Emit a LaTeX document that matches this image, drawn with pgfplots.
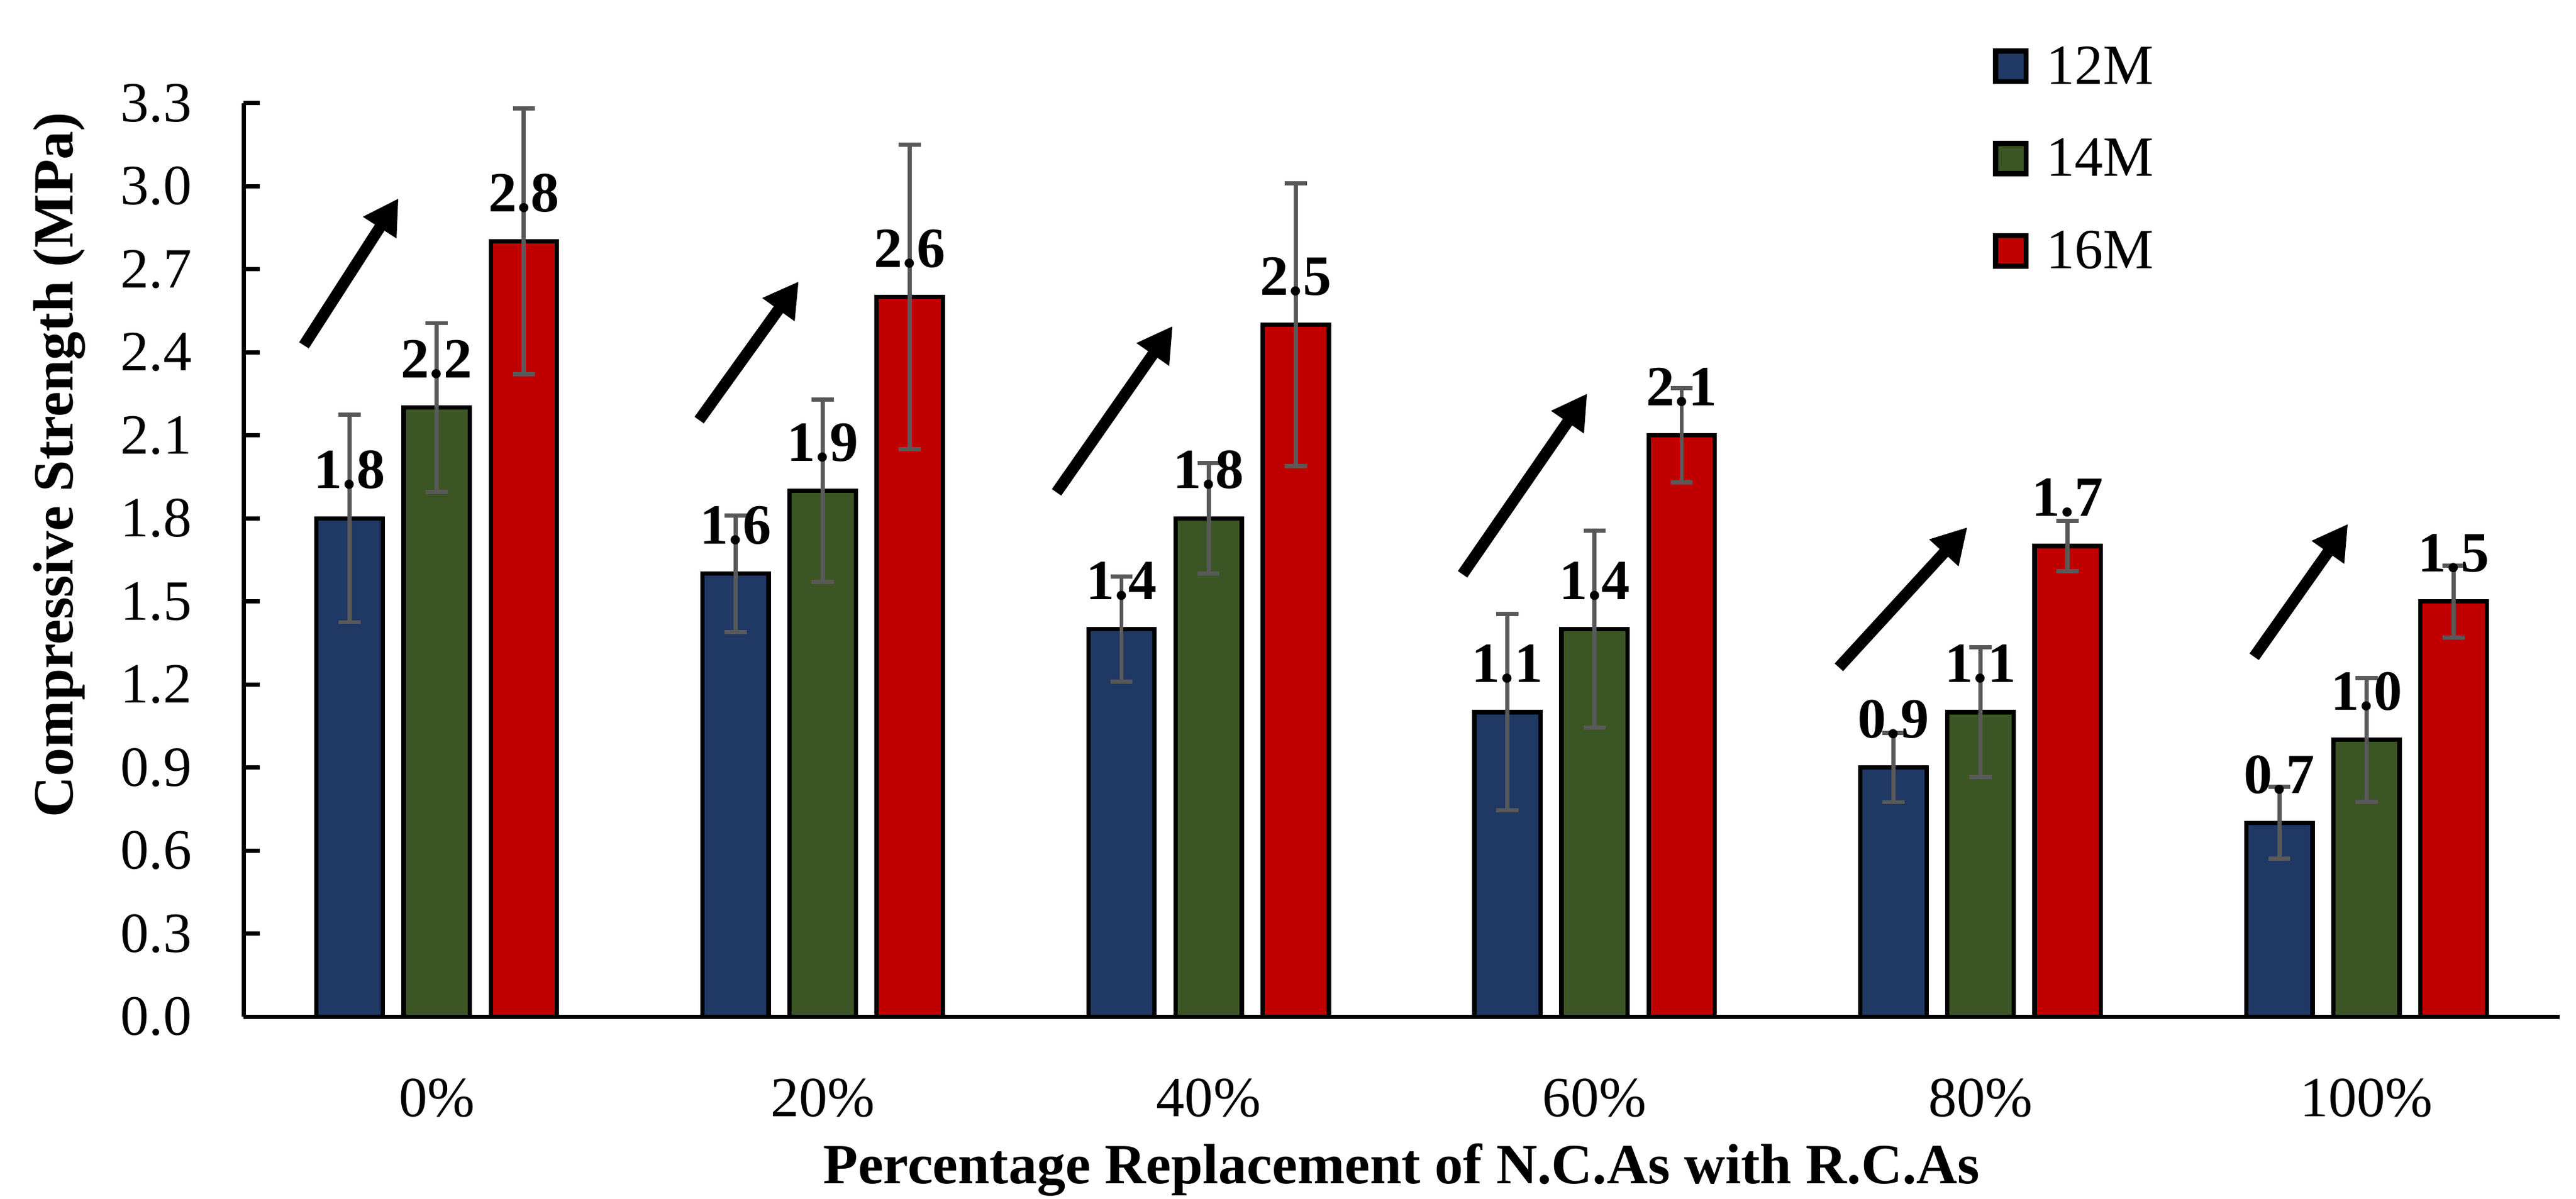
\documentclass[border=0pt]{standalone}
\usepackage{fontspec}
\setmainfont{Liberation Serif}
\usepackage{pgfplots}
\usepackage{pgfplotstable}
\pgfplotsset{compat=1.18}
\usetikzlibrary{arrows.meta}
\definecolor{c12}{RGB}{31,56,100}
\definecolor{c14}{RGB}{59,86,36}
\definecolor{c16}{RGB}{192,0,0}
\definecolor{errgray}{RGB}{89,89,89}

\pgfplotstableread{
x y12 e12 y14 e14 y16 e16
0 1.8 0.375 2.2 0.305 2.8 0.48
1 1.6 0.21 1.9 0.33 2.6 0.55
2 1.4 0.19 1.8 0.20 2.5 0.51
3 1.1 0.355 1.4 0.355 2.1 0.17
4 0.9 0.125 1.1 0.235 1.7 0.09
5 0.7 0.13 1.0 0.224 1.5 0.13
}\datatable

\pgfplotsset{
  legbox/.style={legend image code/.code={%
    \draw[##1, draw=black, line width=1.2pt] (0cm,0.02cm) rectangle (0.245cm,0.265cm);}},
}

\begin{document}
\fontsize{13}{15.6}\selectfont
\begin{tikzpicture}
\begin{axis}[
  scale only axis, width=18.61cm, height=7.345cm,
  ymin=0, ymax=3.3, xmin=-0.5, xmax=5.5,
  clip=false,
  axis lines*=left,
  axis line style={line width=1pt, black},
  tick align=inside,
  major tick length=0.13cm,
  ytick={0,0.3,0.6,0.9,1.2,1.5,1.8,2.1,2.4,2.7,3.0,3.3},
  y tick style={line width=1pt, black},
  xtick={0,1,2,3,4,5},
  xticklabels={0\%,20\%,40\%,60\%,80\%,100\%},
  x tick style={draw=none},
  /pgf/number format/assume math mode=true,
  yticklabel style={/pgf/number format/.cd, fixed, fixed zerofill, precision=1, /tikz/.cd, anchor=east, inner sep=0pt, xshift=-0.41cm},
  xticklabel style={anchor=center, yshift=-0.523cm},
  every axis y label/.style={at={(rel axis cs:0,0.604)}, rotate=90, anchor=center, yshift=1.48cm, font=\bfseries},
  every axis x label/.style={at={(rel axis cs:0.5,0)}, anchor=center, yshift=-1.23cm, font=\bfseries},
  ylabel={Compressive Strength (MPa)},
  xlabel={Percentage Replacement of N.C.As with R.C.As},
  ybar=0.168cm, bar width=0.532cm,
  nodes near coords={\pgfmathprintnumber[fixed, fixed zerofill, precision=1]{\pgfplotspointmeta}},
  every node near coord/.append style={font=\bfseries, text=black, anchor=south, inner sep=0pt, yshift=0.215cm},
  error bars/y dir=both, error bars/y explicit,
  error bars/error bar style={errgray, line width=0.95pt},
  error bars/error mark options={errgray, line width=0.95pt, mark size=0.089cm, rotate=90},
  legend style={at={(rel axis cs:0.755,1.0626)}, anchor=north west, draw=none, fill=none,
    inner sep=0pt, row sep=0.44cm, column sep=0.14cm,
    nodes={inner sep=0pt, text height=0.3cm, text depth=0cm, anchor=base west}},
  legend cell align=left,
]
\addplot[fill=c12, draw=black, line width=1pt, legbox] table[x=x, y=y12, y error=e12] {\datatable};
\addplot[fill=c14, draw=black, line width=1pt, legbox] table[x=x, y=y14, y error=e14] {\datatable};
\addplot[fill=c16, draw=black, line width=1pt, legbox] table[x=x, y=y16, y error=e16] {\datatable};
\legend{12M,14M,16M}

\tikzset{arr/.style={black, line width=2.6pt, -{Triangle[length=0.28cm, width=0.30cm]}}}
\draw[arr] (axis cs:-0.344,2.425) -- (axis cs:-0.099,2.956);
\draw[arr] (axis cs:0.680,2.155) -- (axis cs:0.938,2.656);
\draw[arr] (axis cs:1.606,1.894) -- (axis cs:1.907,2.495);
\draw[arr] (axis cs:2.658,1.598) -- (axis cs:2.981,2.251);
\draw[arr] (axis cs:3.633,1.262) -- (axis cs:3.966,1.768);
\draw[arr] (axis cs:4.709,1.300) -- (axis cs:4.952,1.780);
\end{axis}
\pgfresetboundingbox
\path ([xshift=-1.959cm,yshift=-1.463cm]current axis.south west) rectangle ([xshift=0.133cm,yshift=0.829cm]current axis.north east);
\end{tikzpicture}
\end{document}
